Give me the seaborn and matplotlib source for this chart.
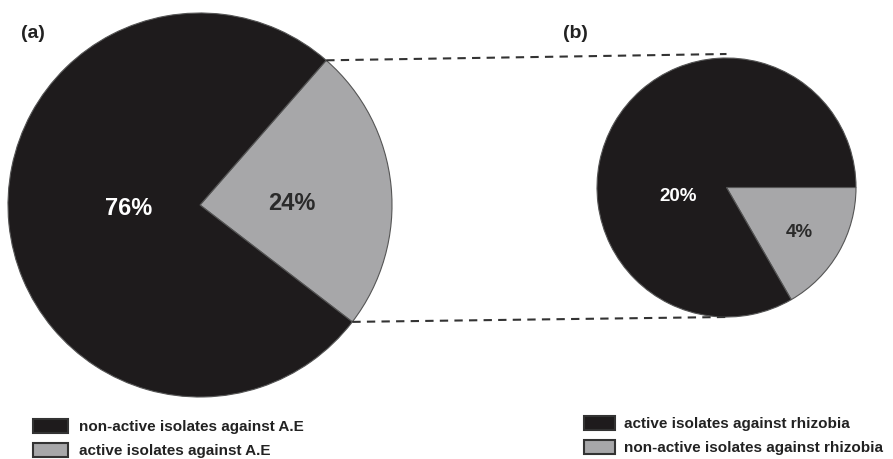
import numpy as np
import matplotlib.pyplot as plt
import matplotlib.patches as mpatches
import seaborn as sns

# data
ae_labels = ["active isolates against A.E", "non-active isolates against A.E"]
ae_values = [24, 76]
rh_labels = ["non-active isolates against rhizobia", "active isolates against rhizobia"]
rh_values = [4, 20]

sns.set_theme(style="white")
plt.rcParams['font.family'] = ['Liberation Sans', 'DejaVu Sans']

BLACK = "#1e1b1c"
GRAY = "#a7a7a9"
EDGE = "#555555"
W, H = 893, 459


def px(y):
    # picture rows -> data y (y axis points up)
    return H - y


fig = plt.figure(figsize=(W / 100, H / 100), dpi=100)
ax = fig.add_axes([0, 0, 1, 1])

# pie (a)
ca, ra = (200, px(205)), 192
start_a = -37.5
ax.pie(ae_values, colors=[GRAY, BLACK], startangle=start_a, center=ca,
       radius=ra, counterclock=True,
       wedgeprops=dict(edgecolor=EDGE, linewidth=0.8))

# pie (b)
cb, rb = (726.5, px(187.5)), 129.5
start_b = -60
ax.pie(rh_values, colors=[GRAY, BLACK], startangle=start_b, center=cb,
       radius=rb, counterclock=True,
       wedgeprops=dict(edgecolor=EDGE, linewidth=0.8))

ax.set_xlim(0, W)
ax.set_ylim(0, H)
ax.set_aspect("equal")
ax.axis("off")

# percentage labels: (angle deg, fraction of radius)
lab_a = [(1, 0.48), (183, 0.37)]
lab_b = [(-31.5, 0.66), (191, 0.38)]
for vals, c, r, pos, fs in [(ae_values, ca, ra, lab_a, 17), (rh_values, cb, rb, lab_b, 13.5)]:
    for v, (ang, f), col in zip(vals, pos, ["#2a2a2a", "white"]):
        t = np.deg2rad(ang)
        ax.text(c[0] + f * r * np.cos(t), c[1] + f * r * np.sin(t), f"{v}%",
                ha="center", va="center", fontsize=fs, fontweight="bold", color=col)

# dashed connectors from the gray wedge of (a) to pie (b)
a1 = np.deg2rad(start_a + 360 * ae_values[0] / sum(ae_values))
a0 = np.deg2rad(start_a)
ax.plot([ca[0] + ra * np.cos(a1), cb[0]], [ca[1] + ra * np.sin(a1), cb[1] + rb + 4],
        ls=(0, (4, 3)), color="#333333", lw=1.5)
ax.plot([ca[0] + ra * np.cos(a0), cb[0]], [ca[1] + ra * np.sin(a0), cb[1] - rb],
        ls=(0, (4, 3)), color="#333333", lw=1.5)

# panel letters
ax.text(21, px(33), "(a)", fontsize=14, fontweight="bold", color="#222222", va="center")
ax.text(563, px(33), "(b)", fontsize=14, fontweight="bold", color="#222222", va="center")

# legends
def make_handles(labels):
    hs = []
    for lab in labels:
        col = BLACK if lab.startswith("non") == ("A.E" in lab) else GRAY
        hs.append(mpatches.Patch(facecolor=col, edgecolor="#333333", linewidth=1.5, label=lab))
    return hs

leg_a = ax.legend(handles=make_handles(ae_labels[::-1]), loc="upper left",
                  bbox_to_anchor=(33, px(419)), bbox_transform=ax.transData,
                  frameon=False, borderpad=0, borderaxespad=0, handlelength=2.3,
                  handleheight=1.0, handletextpad=0.7, labelspacing=0.6,
                  prop=dict(size=11, weight="bold"))
for t in leg_a.get_texts():
    t.set_color("#222222")
ax.add_artist(leg_a)

leg_b = ax.legend(handles=make_handles(rh_labels[::-1]), loc="upper left",
                  bbox_to_anchor=(584, px(416)), bbox_transform=ax.transData,
                  frameon=False, borderpad=0, borderaxespad=0, handlelength=2.0,
                  handleheight=1.0, handletextpad=0.65, labelspacing=0.6,
                  prop=dict(size=11, weight="bold"))
for t in leg_b.get_texts():
    t.set_color("#222222")

fig.savefig("out.png", dpi=100, facecolor="white")
